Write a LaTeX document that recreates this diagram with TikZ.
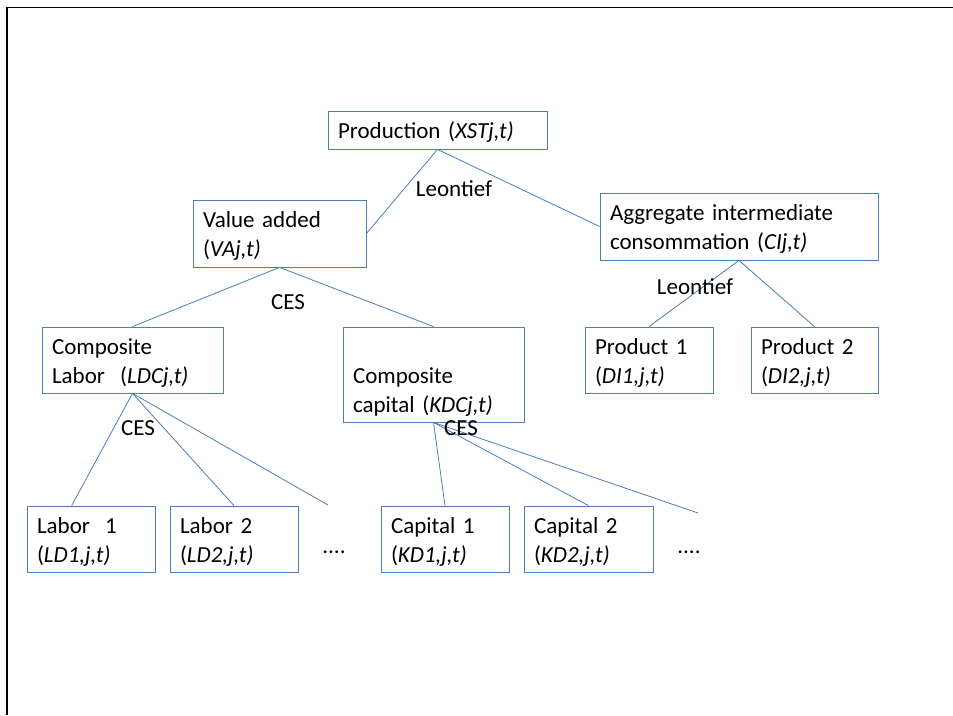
\documentclass[tikz,border=0pt]{standalone}
\usepackage{fontspec}
\setmainfont{Carlito}
\usetikzlibrary{calc}
\definecolor{lineblue}{RGB}{74,126,187}
\newcommand{\topstrut}{\rule{0pt}{26.3pt}}
\tikzset{
  box/.style={draw=lineblue, line width=0.8pt, rectangle, inner xsep=10pt, inner ysep=0pt,
    align=left, font=\fontsize{23}{29}\selectfont},
  conn/.style={draw=lineblue, line width=0.8pt},
  lbl/.style={inner sep=0pt, font=\fontsize{23}{29}\selectfont},
}
% helper: box from (x1,y1) to (x2,y2)
\newcommand{\mybox}[6]{%
  \pgfmathsetmacro{\bw}{#4-#2}\pgfmathsetmacro{\bh}{#5-#3}%
  \pgfmathsetmacro{\tw}{#4-#2-20}%
  \node[box, minimum width=\bw pt, minimum height=\bh pt, text width=\tw pt]
    (#1) at ({(#2+#4)/2},{(#3+#5)/2}) {#6};}
\begin{document}
\begin{tikzpicture}[x=1pt,y=-1pt]
\useasboundingbox (0,0) rectangle (953,715);
\fill[white] (0,0) rectangle (953,715);
\draw[black, line width=1.5pt] (7,715) -- (7,7.5) -- (953,7.5);

\mybox{prod}{328}{111}{547}{149}{\topstrut Production (\textit{XSTj,t)}\strut}
\mybox{va}{193}{200}{366}{267}{\topstrut Value added\\(\textit{VAj,t)}\strut}
\mybox{agg}{600}{193}{878}{260}{\topstrut Aggregate intermediate\\consommation (\textit{CIj,t)}\strut}
\mybox{cl}{42}{327}{223}{393}{\topstrut Composite\\Labor\ \ (\textit{LDCj,t)}\strut}
\mybox{ck}{343}{327}{524}{422}{\topstrut\\Composite\\capital (\textit{KDCj,t)}\strut}
\mybox{p1}{585}{327}{713}{393}{\topstrut Product 1\\(\textit{DI1,j,t)}\strut}
\mybox{p2}{751}{327}{878}{393}{\topstrut Product 2\\(\textit{DI2,j,t)}\strut}
\mybox{l1}{27}{506}{155}{572}{\topstrut Labor\ \ 1\\(\textit{LD1,j,t)}\strut}
\mybox{l2}{170}{506}{298}{572}{\topstrut Labor 2\\(\textit{LD2,j,t)}\strut}
\mybox{k1}{381}{506}{509}{572}{\topstrut Capital 1\\(\textit{KD1,j,t)}\strut}
\mybox{k2}{524}{506}{653}{572}{\topstrut Capital 2\\(\textit{KD2,j,t)}\strut}

\coordinate (lfree) at (328,505);
\coordinate (kfree) at (698,513);

\draw[conn] (prod.south) -- (va.east);
\draw[conn] (prod.south) -- (agg.west);
\draw[conn] (va.south) -- (cl.north);
\draw[conn] (va.south) -- (ck.north);
\draw[conn] (agg.south) -- (p1.north);
\draw[conn] (agg.south) -- (p2.north);
\draw[conn] (cl.south) -- ($(l1.north west)!0.35!(l1.north east)$);
\draw[conn] (cl.south) -- (l2.north);
\draw[conn] (cl.south) -- (lfree);
\draw[conn] (ck.south) -- (k1.north);
\draw[conn] (ck.south) -- (k2.north);
\draw[conn] (ck.south) -- (kfree);

\node[lbl] (leo1) at (454,189) {Leontief};
\node[lbl] (leo2) at (695,287) {Leontief};
\node[lbl] (ces1) at (288,302) {CES};
\node[lbl] (ces2) at (138,428) {CES};
\node[lbl] (ces3) at (461,428) {CES};
\node[lbl] (dots1) at (334,552) {....};
\node[lbl] (dots2) at (689,552) {....};
\end{tikzpicture}
\end{document}
